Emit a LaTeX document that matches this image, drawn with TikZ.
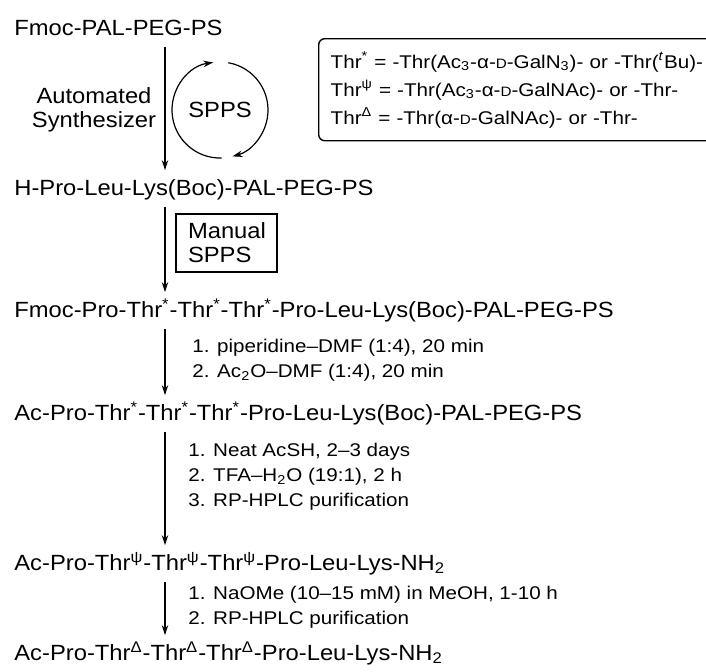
\documentclass[tikz,border=0pt]{standalone}
\usepackage{fontspec}
\newfontfamily\chemfont{Liberation Sans}[FakeStretch=1.08]
\newfontfamily\condfont{Liberation Sans}[FakeStretch=1.12]
\usetikzlibrary{arrows.meta}
\newcommand{\thrs}{Thr\textsuperscript{*}}
\newcommand{\thrp}{Thr\textsuperscript{ψ}}
\newcommand{\thrd}{Thr\textsuperscript{Δ}}
\newcommand{\smD}{{\fontsize{6.8}{7}\selectfont D}}

\tikzset{
  pep/.style={anchor=west, inner sep=0pt, text height=8pt, text depth=2.5pt, font=\chemfont\fontsize{11}{13}\selectfont},
  lbl/.style={inner sep=0pt, font=\chemfont\fontsize{11}{12}\selectfont},
  cond/.style={anchor=west, inner sep=0pt, align=left, font=\condfont\fontsize{9.2}{12.5}\selectfont},
  rxn/.style={-{Stealth[length=5pt,width=3.2pt]}, line width=0.6pt, shorten <=3pt, shorten >=4.5pt},
  cyc arrow/.style={-{Stealth[length=5pt,width=3.2pt]}, line width=0.6pt}
}

\begin{document}
\begin{tikzpicture}[x=0.5pt, y=0.5pt]
    \useasboundingbox (0,0) rectangle (706,-671);
    \coordinate (axis) at (165,0);

    % peptide chain, top to bottom
    \node[pep] (resin) at (14,-30) {Fmoc-PAL-PEG-PS};
    \node[pep] (tripep) at (14,-190) {H-Pro-Leu-Lys(Boc)-PAL-PEG-PS};
    \node[pep] (fmocpep) at (14,-312) {Fmoc-Pro-\thrs-\thrs-\thrs-Pro-Leu-Lys(Boc)-PAL-PEG-PS};
    \node[pep] (acpep) at (14,-415) {Ac-Pro-\thrs-\thrs-\thrs-Pro-Leu-Lys(Boc)-PAL-PEG-PS};
    \node[pep] (psipep) at (14,-565) {Ac-Pro-\thrp-\thrp-\thrp-Pro-Leu-Lys-NH\textsubscript{2}};
    \node[pep] (delpep) at (14,-655) {Ac-Pro-\thrd-\thrd-\thrd-Pro-Leu-Lys-NH\textsubscript{2}};

    % automated part
    \node[lbl, align=center] (auto) at (94,-110) {Automated\\Synthesizer};
    \node[lbl, circle, minimum size=48pt, outer sep=0pt] (cyc) at (220,-110) {SPPS};
    \draw[cyc arrow] (cyc.272) arc[start angle=272, end angle=98, radius=24pt];
    \draw[cyc arrow] (cyc.80) arc[start angle=80, end angle=-75, radius=24pt];

    % legend, cut by the right edge
    \begin{scope}
        \clip (0,0) rectangle (706,-671);
        \node[draw, line width=0.7pt, rounded corners=3pt, anchor=north west, text width=195pt, inner xsep=6pt, minimum height=51pt, align=left, font=\condfont\fontsize{9.2}{14}\selectfont] (legend) at (318,-38) {\thrs{} = -Thr(Ac\textsubscript{3}-α-\smD-GalN\textsubscript{3})- or -Thr(\textsuperscript{\textit{t}}Bu)-\\
        \thrp{} = -Thr(Ac\textsubscript{3}-α-\smD-GalNAc)- or -Thr-\\
        \thrd{} = -Thr(α-\smD-GalNAc)- or -Thr-};
    \end{scope}

    \node[lbl, draw, line width=0.6pt, align=left, text width=38.5pt, inner xsep=6pt, minimum height=29pt] (manual) at (226.5,-243) {Manual\\SPPS};

    % conditions
    \node[cond] (deprot) at (192,-360) {1. piperidine–DMF (1:4), 20 min\\2. Ac\textsubscript{2}O–DMF (1:4), 20 min};
    \node[cond] (thioacid) at (188,-477) {1. Neat AcSH, 2–3 days\\2. TFA–H\textsubscript{2}O (19:1), 2 h\\3. RP-HPLC purification};
    \node[cond] (zemplen) at (188,-607) {1. NaOMe (10–15 mM) in MeOH, 1-10 h\\2. RP-HPLC purification};

    % reaction arrows
    \draw[rxn] (resin.south -| axis) -- (tripep.north -| axis);
    \draw[rxn] (tripep.south -| axis) -- (fmocpep.north -| axis);
    \draw[rxn] (fmocpep.south -| axis) -- (acpep.north -| axis);
    \draw[rxn] (acpep.south -| axis) -- (psipep.north -| axis);
    \draw[rxn] (psipep.south -| axis) -- (delpep.north -| axis);
\end{tikzpicture}
\end{document}
